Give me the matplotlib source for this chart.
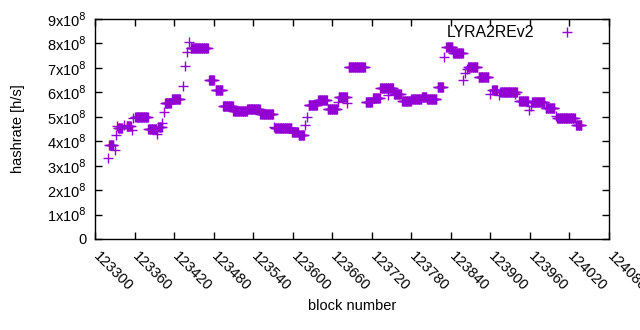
import numpy as np
import matplotlib
matplotlib.use("Agg")
import matplotlib.pyplot as plt
from matplotlib.transforms import ScaledTranslation

plt.rcParams["font.family"] = ["Liberation Sans", "DejaVu Sans"]

# runs of blocks sharing the same hashrate estimate (value in units of 1e8 h/s)
run_start = [123319, 123322, 123330, 123332, 123333, 123335, 123344, 123348, 123356, 123357,
             123361, 123381, 123394, 123396, 123402, 123404, 123406, 123417, 123433, 123437,
             123439, 123443, 123445, 123473, 123483, 123494, 123495, 123510, 123531, 123551,
             123571, 123573, 123599, 123609, 123619, 123621, 123624, 123639, 123653, 123669,
             123670, 123683, 123685, 123711, 123722, 123733, 123745, 123754, 123766, 123780,
             123796, 123804, 123820, 123830, 123833, 123844, 123859, 123862, 123864, 123866,
             123882, 123899, 123903, 123913, 123915, 123938, 123944, 123959, 123962, 123963,
             123984, 123999, 124001, 124030]
run_end = [123319, 123328, 123330, 123332, 123333, 123341, 123344, 123354, 123356, 123357,
           123380, 123393, 123394, 123401, 123402, 123404, 123415, 123429, 123433, 123437,
           123439, 123443, 123471, 123480, 123493, 123494, 123509, 123530, 123550, 123570,
           123571, 123598, 123608, 123617, 123619, 123621, 123637, 123652, 123667, 123669,
           123682, 123683, 123709, 123720, 123732, 123752, 123745, 123764, 123779, 123795,
           123803, 123818, 123828, 123830, 123842, 123858, 123859, 123862, 123864, 123880,
           123897, 123899, 123910, 123913, 123940, 123938, 123957, 123959, 123962, 123982,
           123997, 123999, 124028, 124038]
run_value = [3.30, 3.85, 3.64, 4.26, 4.62, 4.54, 4.66, 4.62, 4.46, 4.95,
             4.99, 4.50, 4.30, 4.58, 4.75, 5.20, 5.55, 5.73, 6.26, 7.09,
             7.64, 8.05, 7.80, 6.50, 6.08, 5.44, 5.46, 5.24, 5.32, 5.10,
             4.58, 4.54, 4.38, 4.24, 4.66, 4.99, 5.50, 5.69, 5.30, 5.60,
             5.80, 5.56, 7.03, 5.59, 5.77, 6.16, 5.90, 5.95, 5.65, 5.72,
             5.80, 5.74, 6.21, 7.46, 7.84, 7.60, 6.50, 6.79, 6.94, 7.05,
             6.61, 5.93, 6.11, 5.90, 6.03, 5.93, 5.65, 5.28, 5.44, 5.61,
             5.36, 5.03, 4.95, 4.66]

x_ticks = list(range(123300, 124081, 60))
y_ticks = [i * 1e8 for i in range(10)]
y_labels = ["0"] + [f"{i}x10$^{{8}}$" for i in range(1, 10)]

# one point per block
blocks, rates = [], []
for s, e, v in zip(run_start, run_end, run_value):
    for b in range(s, e + 1):
        blocks.append(b)
        rates.append(v * 1e8)

fig = plt.figure(figsize=(6.4, 3.3), dpi=100)
ax = fig.add_axes([95 / 640, 1 - 239 / 330, 514 / 640, 220 / 330])

ax.plot(blocks, rates, linestyle="none", marker="+", markersize=7,
        markeredgewidth=1.0, color="#9400d3", label="LYRA2REv2")

ax.set_xlim(123300, 124080)
ax.set_ylim(0, 9e8)
ax.set_xticks(x_ticks)
ax.set_xticklabels([str(t) for t in x_ticks], rotation=-45, ha="left", va="top",
                   rotation_mode="anchor")
ax.set_yticks(y_ticks)
ax.set_yticklabels(y_labels)
ax.tick_params(direction="in", length=5, width=1, labelsize=10.5, top=True, right=True,
               pad=6)
ax.tick_params(axis="x", pad=7)
# gnuplot puts the rotated label's first glyph right under the tick
shift = ScaledTranslation(0.055, 0, fig.dpi_scale_trans)
for lbl in ax.get_xticklabels():
    lbl.set_transform(lbl.get_transform() + shift)
for sp in ax.spines.values():
    sp.set_linewidth(1)

ax.set_xlabel("block number", fontsize=10.5, labelpad=4)
ax.set_ylabel("hashrate [h/s]", fontsize=10.5, labelpad=16)

ax.legend(loc="upper right", bbox_to_anchor=(0.949, 0.972), frameon=False,
          markerfirst=False, fontsize=11.4, handlelength=2.0, borderaxespad=0,
          borderpad=0, handletextpad=1.07)

fig.savefig("out.png", dpi=100)
